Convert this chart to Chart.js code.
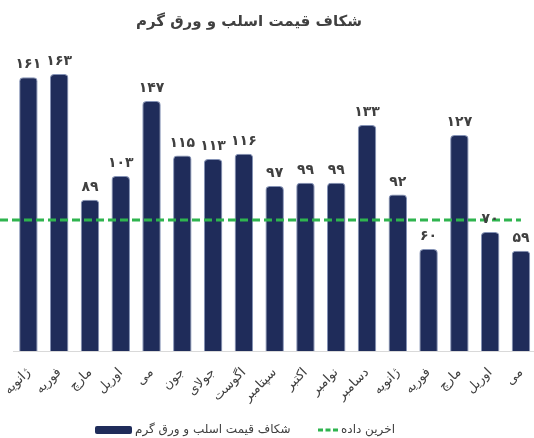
<!DOCTYPE html>
<html lang="fa">
<head>
<meta charset="utf-8">
<script src="https://cdn.jsdelivr.net/npm/chart.js@4.4.1/dist/chart.umd.min.js"></script>
<style>
    html, body { margin: 0; padding: 0; background: #fff; overflow: hidden; }
    #contenedor { width: 538px; height: 438px; }
</style>
</head>
<body>
<div id="contenedor"><canvas id="grafico" width="538" height="438"></canvas></div>
<script>
const meses = ['ژانویه', 'فوریه', 'مارچ', 'اوریل', 'می', 'جون', 'جولای', 'اگوست', 'سپتامبر', 'اکتبر', 'نوامبر', 'دسامبر', 'ژانویه', 'فوریه', 'مارچ', 'اوریل', 'می'];
const valores = [161, 163, 89, 103, 147, 115, 113, 116, 97, 99, 99, 133, 92, 60, 127, 70, 59];
const ultimoDato = 77;
const ejeY = [0, 180];

const titulo = 'شکاف قیمت اسلب و ورق گرم';
const nombreBarras = 'شکاف قیمت اسلب و ورق گرم';
const nombreLinea = 'اخرین داده';

const fuente = '"DejaVu Sans", "Noto Sans", sans-serif';
const azul = '#1f2c5a';
const verde = '#2fb44f';
const gris = '#404040';

function aPersa(n) {
    return String(n).replace(/\d/g, d => '۰۱۲۳۴۵۶۷۸۹'[d]);
}

const extras = {
    id: 'extras',
    afterDatasetsDraw(chart) {
        const ctx = chart.ctx;
        const x = chart.scales.x;
        const y = chart.scales.y;

        // linea de ultimo dato
        const yLinea = y.getPixelForValue(ultimoDato);
        ctx.save();
        ctx.strokeStyle = verde;
        ctx.lineWidth = 3;
        ctx.setLineDash([8, 4]);
        ctx.beginPath();
        ctx.moveTo(0, yLinea);
        ctx.lineTo(x.getPixelForValue(meses.length - 1), yLinea);
        ctx.stroke();
        ctx.restore();

        // etiquetas sobre las barras
        const meta = chart.getDatasetMeta(0);
        ctx.save();
        ctx.font = 'bold 14px ' + fuente;
        ctx.fillStyle = gris;
        ctx.textAlign = 'center';
        ctx.textBaseline = 'alphabetic';
        meta.data.forEach((barra, i) => {
            ctx.fillText(aPersa(valores[i]), barra.x, barra.y - 9);
        });
        ctx.restore();
    },
    afterDraw(chart) {
        const ctx = chart.ctx;

        // titulo
        ctx.save();
        ctx.font = 'bold 15px ' + fuente;
        ctx.fillStyle = gris;
        ctx.textAlign = 'center';
        ctx.textBaseline = 'middle';
        ctx.fillText(titulo, 249, 22);
        ctx.restore();

        // leyenda
        ctx.save();
        ctx.font = '12px ' + fuente;
        ctx.textBaseline = 'middle';
        ctx.textAlign = 'left';
        const py = 430;

        ctx.fillStyle = azul;
        ctx.beginPath();
        ctx.roundRect(95, py - 4, 37, 8, 2);
        ctx.fill();
        ctx.fillStyle = gris;
        ctx.fillText(nombreBarras, 135, py);

        ctx.strokeStyle = verde;
        ctx.lineWidth = 3;
        ctx.setLineDash([5, 2.5]);
        ctx.beginPath();
        ctx.moveTo(318, py);
        ctx.lineTo(338, py);
        ctx.stroke();
        ctx.fillText(nombreLinea, 341, py);
        ctx.restore();
    }
};

new Chart(document.getElementById('grafico'), {
    type: 'bar',
    data: {
        labels: meses,
        datasets: [{
            label: nombreBarras,
            data: valores,
            backgroundColor: azul,
            borderColor: '#8593b6',
            borderWidth: 1,
            borderRadius: 4,
            categoryPercentage: 1,
            barPercentage: 0.6
        }]
    },
    options: {
        responsive: false,
        animation: false,
        layout: { padding: { left: 13, right: 1, top: 45, bottom: 0 } },
        plugins: {
            legend: { display: false },
            title: { display: false },
            tooltip: { enabled: false }
        },
        scales: {
            x: {
                grid: { display: false },
                border: { display: true, color: '#d9d9d9', width: 1 },
                ticks: {
                    color: gris,
                    font: { family: fuente, size: 13 },
                    minRotation: 45,
                    maxRotation: 45,
                    padding: 6,
                    autoSkip: false
                },
                afterFit(scale) { scale.height = 87; }
            },
            y: {
                display: false,
                min: ejeY[0],
                max: ejeY[1]
            }
        }
    },
    plugins: [extras]
});
</script>
</body>
</html>
